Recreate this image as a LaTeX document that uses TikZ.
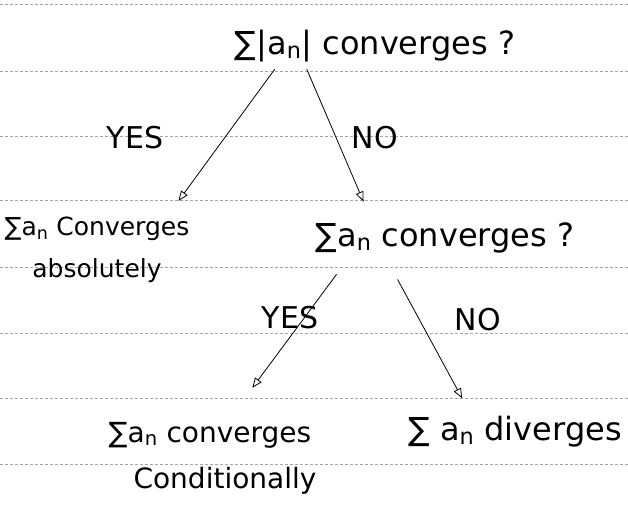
\documentclass[tikz,border=0pt]{standalone}
\usepackage{fontspec}
\setmainfont{DejaVu Sans}
\usetikzlibrary{arrows.meta}
\begin{document}
\begin{tikzpicture}[x=1pt,y=-1pt,
  rule/.style={densely dashed, gray!70, line width=0.6pt},
  txt/.style={inner sep=1pt, font=\fontsize{28}{46}\selectfont},
  small/.style={inner sep=1pt, font=\fontsize{25}{42}\selectfont},
  big/.style={inner sep=1pt, font=\fontsize{32}{44}\selectfont},
  lbl/.style={inner sep=1pt, font=\fontsize{30}{36}\selectfont},
  arr/.style={-{Triangle[open,length=10pt,width=8pt]}, line width=0.8pt}]
\useasboundingbox (0,0) rectangle (628,518);
\foreach \y in {4,71,136,200,267,333,398,464} \draw[rule] (0,\y) -- (628,\y);

\node[big] (q1) at (375,46) {∑|a\textsubscript{n}| converges ?};
\node[small, align=center] (abs) at (97,250) {∑a\textsubscript{n} Converges\\absolutely};
\node[big] (q2) at (445,238) {∑a\textsubscript{n} converges ?};
\node[txt, align=center] (cond) at (210,458) {∑a\textsubscript{n} converges\\\hspace*{30pt}Conditionally};
\node[big] (div) at (515,432) {∑ a\textsubscript{n} diverges};

\node[lbl] (yes1) at (135,138) {YES};
\node[lbl] (no1) at (375,138) {NO};
\node[lbl] (yes2) at (290,318) {YES};
\node[lbl] (no2) at (478,320) {NO};

\draw[arr] ([xshift=41pt,yshift=-6pt]q1.south west) -- ([xshift=-12pt,yshift=15pt]abs.north east);
\draw[arr] ([xshift=73pt,yshift=-6pt]q1.south west) -- ([xshift=49pt,yshift=20pt]q2.north west);
\draw[arr] ([xshift=22pt,yshift=-20pt]q2.south west) -- ([xshift=150pt,yshift=33pt]cond.north west);
\draw[arr] ([xshift=83pt,yshift=-25pt]q2.south west) -- ([xshift=55pt,yshift=17pt]div.north west);
\end{tikzpicture}
\end{document}
